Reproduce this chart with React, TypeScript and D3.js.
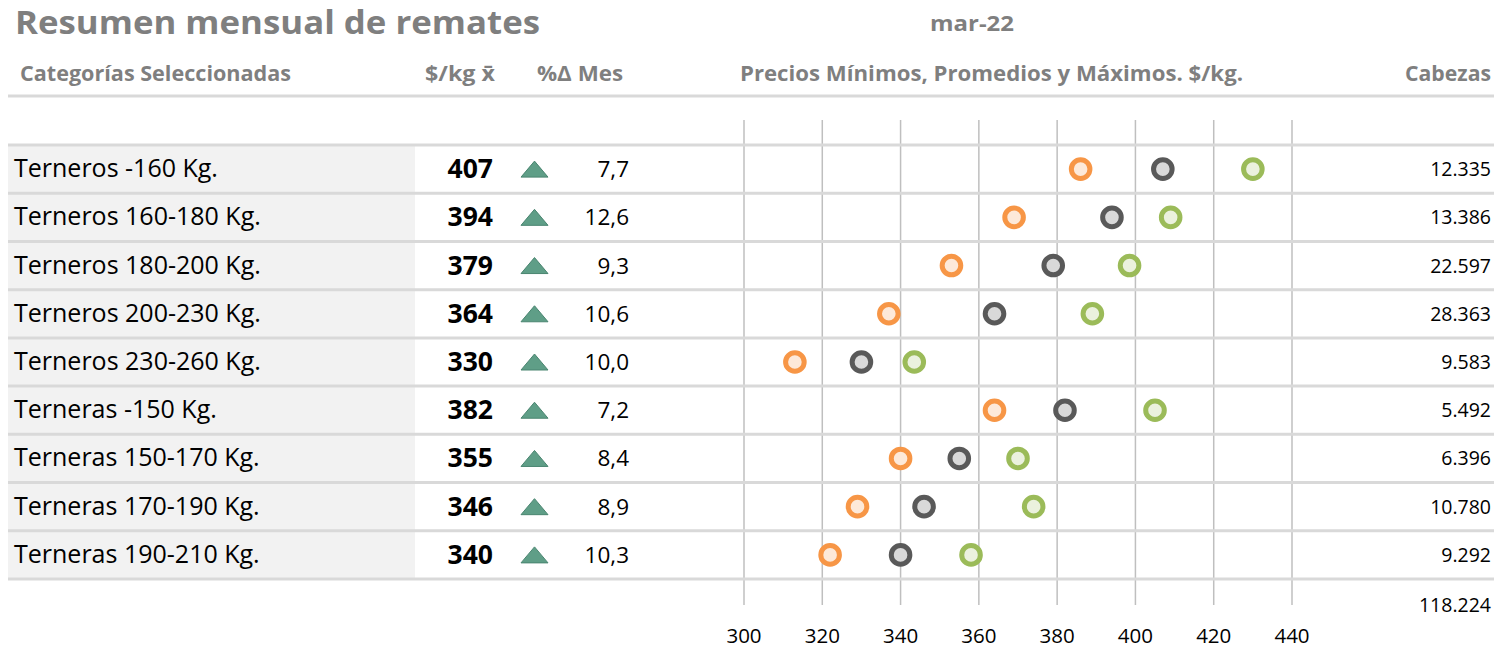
import React from "react";
import * as d3 from "d3";

const categories = [
  "Terneros -160 Kg.",
  "Terneros 160-180 Kg.",
  "Terneros 180-200 Kg.",
  "Terneros 200-230 Kg.",
  "Terneros 230-260 Kg.",
  "Terneras -150 Kg.",
  "Terneras 150-170 Kg.",
  "Terneras 170-190 Kg.",
  "Terneras 190-210 Kg.",
];
const avgPrice = [407, 394, 379, 364, 330, 382, 355, 346, 340];
const pctChange = ["7,7", "12,6", "9,3", "10,6", "10,0", "7,2", "8,4", "8,9", "10,3"];
const minPrice = [386, 369, 353, 337, 313, 364, 340, 329, 322];
const avgDot = [407, 394, 379, 364, 330, 382, 355, 346, 340];
const maxPrice = [430, 409, 398.5, 389, 343.5, 405, 370, 374, 358];
const heads = ["12.335", "13.386", "22.597", "28.363", "9.583", "5.492", "6.396", "10.780", "9.292"];
const totalHeads = "118.224";
const ticks = [300, 320, 340, 360, 380, 400, 420, 440];

const FONT = "'Open Sans', Lato, sans-serif";

export default function App() {
  const W = 1494, H = 650;
  const x = d3.scaleLinear().domain([300, 440]).range([744, 1292]);
  const y = d3.scaleBand<number>().domain(d3.range(categories.length)).range([145, 579]);
  const bw = y.bandwidth();
  const gray = "#7f7f7f";
  const sep = "#d9d9d9";

  const series = [
    { vals: minPrice, stroke: "#f79646", fill: "#fde9d9" },
    { vals: avgDot, stroke: "#595959", fill: "#d9d9d9" },
    { vals: maxPrice, stroke: "#9bbb59", fill: "#ebf1de" },
  ];

  const hdr = (t: string, x0: number, w: number, yy: number, fs: number) => (
    <text x={x0} y={yy} fontSize={fs} fontWeight={700} fill={gray} textLength={w} lengthAdjust="spacingAndGlyphs">{t}</text>
  );

  return (
    <svg width={W} height={H} style={{ position: "absolute", left: 0, top: 0, background: "#fff" }} fontFamily={FONT}>
      {hdr("Resumen mensual de remates", 15, 525, 34, 31.5)}
      {hdr("mar-22", 930, 84, 31, 22)}

      {hdr("Categorías Seleccionadas", 20, 271, 81, 22)}
      {hdr("$/kg x̄", 425, 70, 81, 22)}
      {hdr("%Δ Mes", 537, 86, 81, 22)}
      {hdr("Precios Mínimos, Promedios y Máximos. $/kg.", 740, 503, 81, 22)}
      {hdr("Cabezas", 1405, 86, 81, 22)}
      <line x1={8} x2={1494} y1={96} y2={96} stroke={sep} strokeWidth={3} />

      <rect x={8} y={145} width={407} height={434} fill="#f2f2f2" />

      {ticks.map((t) => (
        <line key={t} x1={x(t)} x2={x(t)} y1={120} y2={605} stroke="#bfbfbf" strokeWidth={1.5} />
      ))}

      {categories.map((c, i) => (
        <line key={"s" + i} x1={8} x2={1494} y1={(y(i) as number)} y2={(y(i) as number)} stroke={sep} strokeWidth={3} />
      ))}
      <line x1={8} x2={1494} y1={579} y2={579} stroke={sep} strokeWidth={3} />

      {categories.map((c, i) => {
        const cy = (y(i) as number) + bw / 2;
        return (
          <g key={c}>
            <text x={14} y={cy + 8} fontSize={25} fill="#000">{c}</text>
            <text x={493} y={cy + 9} fontSize={26.5} fontWeight={700} fill="#000" textAnchor="end">{avgPrice[i]}</text>
            <path d={`M521,${cy + 8} L534.5,${cy - 8} L548,${cy + 8} Z`} fill="#5f9e87" stroke="#4a8570" strokeWidth={1} />
            <text x={629} y={cy + 8} fontSize={22.5} fill="#000" textAnchor="end">{pctChange[i]}</text>
            <text x={1491} y={cy + 7} fontSize={19.5} fill="#000" textAnchor="end">{heads[i]}</text>
          </g>
        );
      })}
      <text x={1491} y={612} fontSize={19.5} fill="#000" textAnchor="end">{totalHeads}</text>

      {series.map((s, k) =>
        s.vals.map((v, i) => (
          <circle key={k + "-" + i} cx={x(v)} cy={(y(i) as number) + bw / 2} r={9.3} fill={s.fill} stroke={s.stroke} strokeWidth={5} />
        ))
      )}

      {ticks.map((t) => (
        <text key={"t" + t} x={x(t)} y={643} fontSize={20.5} fill="#000" textAnchor="middle">{t}</text>
      ))}
    </svg>
  );
}
